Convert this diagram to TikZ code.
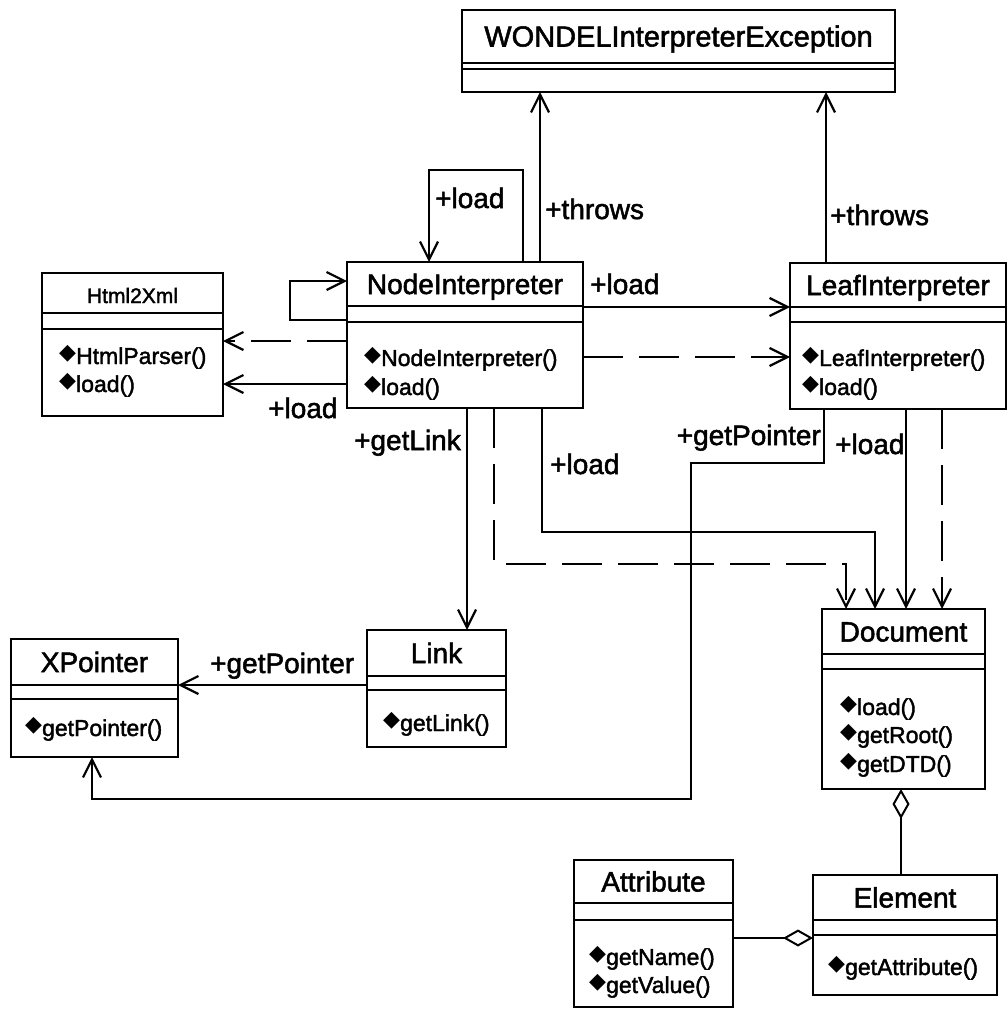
\documentclass[tikz,border=0pt]{standalone}
\usepackage{fontspec}
\setmainfont{Liberation Sans}[BoldFont=Liberation Sans, BoldFeatures={FakeBold=1.8}]
\newfontfamily\symfont{DejaVu Sans}
\usetikzlibrary{arrows.meta,calc}

% filled diamond that marks an operation
\newcommand\opmark{\raisebox{5pt}{\symfont\mdseries\fontsize{22}{22}\selectfont ◆}}

\tikzset{
  classbox/.style={draw, line width=2.2pt, inner sep=0pt, outer sep=0pt, anchor=north west},
  classline/.style={line width=2pt},
  titletext/.style={font=\bfseries\fontsize{28}{32}\selectfont, inner sep=0pt, anchor=base},
  methtext/.style={font=\bfseries\fontsize{23}{27}\selectfont, inner sep=0pt, anchor=base west},
  roletext/.style={font=\bfseries\fontsize{28}{32}\selectfont, inner sep=0pt},
  assoc/.style={line width=1.6pt, -{Straight Barb[length=18pt,width=18pt,line width=2.2pt]}},
  depend/.style={assoc, line width=2pt, dash pattern=on 40pt off 16pt},
  aggreg/.style={line width=1.8pt, -{Diamond[open,length=30pt,width=17pt,line width=2pt]}},
}

% #1 name, #2 left, #3 top, #4 width, #5 height, #6/#7 compartment rules, #8 class name
\newcommand\umlclass[8]{%
  \node[classbox, minimum width=#4pt, minimum height=#5pt] (#1) at (#2,#3) {};
  \draw[classline] ($(#1.north west)+(0,#6)$) -- ($(#1.north east)+(0,#6)$);
  \draw[classline] ($(#1.north west)+(0,#7)$) -- ($(#1.north east)+(0,#7)$);
  \node[titletext] (#1-name) at ($(#1.north)+(0,#6/2+10)$) {#8};
}

\begin{document}
\begin{tikzpicture}[x=1pt,y=-1pt]
\useasboundingbox (0,0) rectangle (1008,1009);

% classes
\umlclass{wex}{462}{10}{433}{82}{53}{59}{\fontsize{29}{32}\selectfont WONDELInterpreterException}
\umlclass{ni}{347}{262}{236}{146}{44}{60}{NodeInterpreter}
\umlclass{hx}{42}{273}{181}{143}{40}{56}{\fontsize{21}{24}\selectfont Html2Xml}
\umlclass{li}{790}{263}{216}{146}{44}{59}{LeafInterpreter}
\umlclass{doc}{822}{609}{163}{180}{45}{60}{Document}
\umlclass{el}{813}{875}{184}{120}{45}{60}{Element}
\umlclass{at}{574}{860}{159}{147}{43}{60}{Attribute}
\umlclass{xp}{11}{639}{167}{118}{46}{60}{XPointer}
\umlclass{lk}{367}{630}{139}{117}{46}{60}{Link}

% operations
\node[methtext] (ni-m1) at ($(ni.north west)+(17,104)$) {\opmark NodeInterpreter()};
\node[methtext] (ni-m2) at ($(ni.north west)+(17,133)$) {\opmark load()};
\node[methtext] (hx-m1) at ($(hx.north west)+(17,91)$) {\opmark HtmlParser()};
\node[methtext] (hx-m2) at ($(hx.north west)+(17,119)$) {\opmark load()};
\node[methtext] (li-m1) at ($(li.north west)+(12,103)$) {\opmark LeafInterpreter()};
\node[methtext] (li-m2) at ($(li.north west)+(12,132)$) {\opmark load()};
\node[methtext] (doc-m1) at ($(doc.north west)+(18,106)$) {\opmark load()};
\node[methtext] (doc-m2) at ($(doc.north west)+(18,134)$) {\opmark getRoot()};
\node[methtext] (doc-m3) at ($(doc.north west)+(18,163)$) {\opmark getDTD()};
\node[methtext] (el-m1) at ($(el.north west)+(15,100)$) {\opmark getAttribute()};
\node[methtext] (at-m1) at ($(at.north west)+(15,105)$) {\opmark getName()};
\node[methtext] (at-m2) at ($(at.north west)+(15,133)$) {\opmark getValue()};
\node[methtext] (xp-m1) at ($(xp.north west)+(14,97)$) {\opmark getPointer()};
\node[methtext] (lk-m1) at ($(lk.north west)+(16,101)$) {\opmark getLink()};

% associations and dependencies
\draw[assoc] ($(ni.north west)+(176,0)$) -- ++(0,-92) -- ++(-94,0) -- ($(ni.north west)+(82,0)$);
\draw[assoc] ($(ni.north west)+(0,58)$) -- ++(-57,0) -- ++(0,-39) -- ($(ni.north west)+(0,19)$);
\draw[assoc] ($(ni.north west)+(193,0)$) -- ($(wex.south west)+(78,0)$);
\draw[assoc] ($(li.north west)+(36,0)$) -- ($(wex.south west)+(364,0)$);
\draw[depend] ($(ni.north west)+(0,79)$) -- ($(hx.north east)+(0,68)$);
\draw[assoc] ($(ni.north west)+(0,122)$) -- ($(hx.north east)+(0,111)$);
\draw[assoc] ($(ni.north east)+(0,45)$) -- ($(li.north west)+(0,44)$);
\draw[depend] ($(ni.north east)+(0,95)$) -- ($(li.north west)+(0,94)$);
\draw[assoc] ($(ni.south west)+(120,0)$) -- ($(lk.north west)+(100,0)$);
\draw[depend] ($(ni.south west)+(147,0)$) -- ++(0,156) -| ($(doc.north west)+(24,0)$);
\draw[assoc] ($(ni.south west)+(195,0)$) -- ++(0,124) -| ($(doc.north west)+(53,0)$);
\draw[assoc] ($(li.south west)+(116,0)$) -- ($(doc.north west)+(84,0)$);
\draw[depend] ($(li.south west)+(152,0)$) -- ($(doc.north west)+(120,0)$);
\draw[assoc] ($(li.south west)+(34,0)$) -- ++(0,54) -- ++(-133,0) -- ++(0,336) -| ($(xp.south west)+(81,0)$);
\draw[assoc] ($(lk.north west)+(0,55)$) -- ($(xp.north east)+(0,46)$);

% aggregations
\draw[aggreg] ($(el.north west)+(88,0)$) -- ($(doc.south west)+(79,0)$);
\draw[aggreg] ($(at.north east)+(0,78)$) -- ($(el.north west)+(0,63)$);

% role names
\node[roletext, anchor=base west] (r-self) at (435,208) {+load};
\node[roletext, anchor=base west] (r-thr1) at (545,219) {+throws};
\node[roletext, anchor=base west] (r-thr2) at (830,225) {+throws};
\node[roletext, anchor=base west] (r-leaf) at (590,294) {+load};
\node[roletext, anchor=base west] (r-html) at (268,418) {+load};
\node[roletext, anchor=base east] (r-link) at (461,450) {+getLink};
\node[roletext, anchor=base west] (r-doc1) at (550,474) {+load};
\node[roletext, anchor=base east] (r-ptr1) at (821,445) {+getPointer};
\node[roletext, anchor=base west] (r-doc2) at (835,454) {+load};
\node[roletext, anchor=base west] (r-ptr2) at (210,673) {+getPointer};
\end{tikzpicture}
\end{document}
